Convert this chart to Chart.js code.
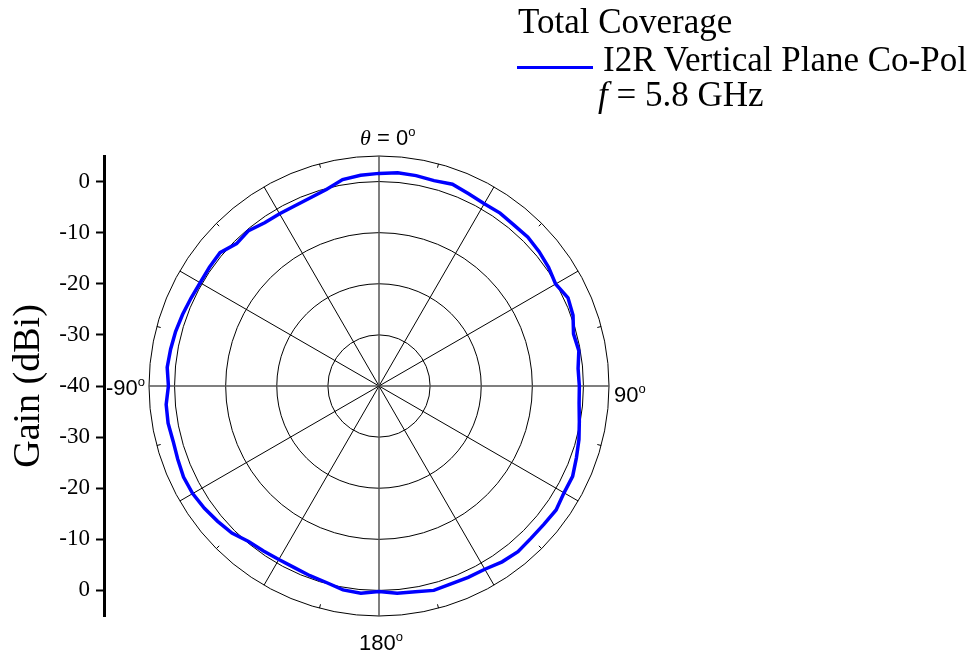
<!DOCTYPE html>
<html>
<head>
<meta charset="utf-8">
<script src="https://cdn.jsdelivr.net/npm/chart.js@4.4.1/dist/chart.umd.min.js"></script>
<style>
  body { margin: 0; background: #fff; }
  #wrap { position: relative; width: 976px; height: 656px; overflow: hidden; }
  canvas { position: absolute; left: 0; top: 0; }
  .serif { position: absolute; font-family: "Liberation Serif", "Times New Roman", serif; font-size: 35px; line-height: 35px; color: #000; white-space: nowrap; }
  .ang { position: absolute; font-family: "Liberation Sans", Arial, sans-serif; font-size: 22px; line-height: 22px; color: #000; white-space: nowrap; }
  .ang sup { font-size: 13px; vertical-align: 9px; line-height: 0; }
  .ang i { font-family: "Liberation Serif", serif; }
  #legLine { position: absolute; left: 517px; top: 66px; width: 76px; height: 3px; background: #0000ff; }
</style>
</head>
<body>
<div id="wrap">
  <canvas id="gainAxis" width="976" height="656"></canvas>
  <canvas id="polar" width="976" height="656"></canvas>

  <div class="serif" style="left:518px; top:4px;">Total Coverage</div>
  <div id="legLine"></div>
  <div class="serif" style="left:603px; top:42px;">I2R Vertical Plane Co-Pol</div>
  <div class="serif" style="left:598px; top:77px;"><i>f</i> = 5.8 GHz</div>

  <div class="ang" style="left:360px; top:127px;"><i>θ</i> = 0<sup>o</sup></div>
  <div class="ang" style="left:614px; top:384px;">90<sup>o</sup></div>
  <div class="ang" style="left:106px; top:377px;">-90<sup>o</sup></div>
  <div class="ang" style="left:359px; top:632px;">180<sup>o</sup></div>
</div>
<script>
// angle (deg, clockwise from top) every 5 degrees
const angles = [0, 5, 10, 15, 20, 25, 30, 35, 40, 45, 50, 55,
  60, 65, 70, 75, 80, 85, 90, 95, 100, 105, 110, 115,
  120, 125, 130, 135, 140, 145, 150, 155, 160, 165, 170, 175,
  180, 185, 190, 195, 200, 205, 210, 215, 220, 225, 230, 235,
  240, 245, 250, 255, 260, 265, 270, 275, 280, 285, 290, 295,
  300, 305, 310, 315, 320, 325, 330, 335, 340, 345, 350, 355];

// co-pol gain in dBi
const coPolGain = [1.6, 1.9, 1.8, 1.6, 2.0, 1.5, 1.2, 1.3, 1.1, 1.2, 0.9, 0.5,
  -0.1, 0.8, 0.4, -0.6, -0.3, -0.9, -0.8, -0.7, -0.2, 0.5, 1.1, 1.8,
  1.8, 2.3, 2.1, 2.1, 2.3, 2.0, 1.4, 1.3, 1.2, 1.4, 0.9, 0.7,
  0.2, 0.7, 0.5, -0.2, -0.5, -0.8, -0.8, -0.6, -0.3, 0.7, 1.2, 1.7,
  2.1, 2.2, 1.9, 1.7, 1.9, 1.8, 1.2, 1.6, 1.4, 1.2, 0.9, 0.6,
  0.4, 0.5, 0.6, -0.6, -0.3, -1.0, -1.1, -1.1, -0.8, -0.2, 1.0, 1.4];

// polar rings (dB), last one is the outer frame
const ringValues = [-40, -30, -20, -10, 0, 5];

// left gain axis: mirrored around the centre (-40)
const axisTicks = [40, 30, 20, 10, 0, -10, -20, -30, -40];
const gainLabels = ['0', '-10', '-20', '-30', '-40', '-30', '-20', '-10', '0'];

// small ticks on the outer frame every 15 deg
const outerTicks = {
  id: 'outerTicks',
  beforeDatasetsDraw(chart) {
    const r = chart.scales.r;
    const ctx = chart.ctx;
    const outer = r.getDistanceFromCenterForValue(r.max);
    ctx.save();
    ctx.strokeStyle = '#000';
    ctx.lineWidth = 1;
    angles.forEach((a, i) => {
      if (a % 15 !== 0 || a % 30 === 0) return;
      const p1 = r.getPointPosition(i, outer);
      const p2 = r.getPointPosition(i, outer - 4);
      ctx.beginPath();
      ctx.moveTo(p1.x, p1.y);
      ctx.lineTo(p2.x, p2.y);
      ctx.stroke();
    });
    ctx.restore();
  }
};

new Chart(document.getElementById('polar'), {
  type: 'radar',
  data: {
    labels: angles,
    datasets: [{
      label: 'I2R Vertical Plane Co-Pol',
      data: coPolGain,
      borderColor: '#0000ff',
      borderWidth: 3.5,
      pointRadius: 0,
      fill: false,
      tension: 0
    }]
  },
  options: {
    responsive: false,
    animation: false,
    layout: { padding: { left: 149, top: 156, right: 367, bottom: 40 } },
    plugins: { legend: { display: false }, tooltip: { enabled: false } },
    scales: {
      r: {
        min: -40,
        max: 5,
        afterBuildTicks: (s) => { s.ticks = ringValues.map(v => ({ value: v })); },
        ticks: { display: false },
        grid: { circular: true, color: '#000', lineWidth: 1 },
        angleLines: {
          color: (ctx) => (angles[ctx.index] % 90 === 0 ? '#555' : '#000'),
          lineWidth: (ctx) => (angles[ctx.index] % 90 === 0 ? 1.5 : (angles[ctx.index] % 30 === 0 ? 1 : 0))
        },
        pointLabels: { display: false }
      }
    }
  },
  plugins: [outerTicks]
});

new Chart(document.getElementById('gainAxis'), {
  type: 'line',
  data: { labels: [], datasets: [] },
  options: {
    responsive: false,
    animation: false,
    layout: { padding: { left: 0, top: 156, right: 700, bottom: 40 } },
    plugins: { legend: { display: false }, tooltip: { enabled: false } },
    scales: {
      x: { display: false },
      y: {
        min: -45,
        max: 45,
        afterBuildTicks: (s) => { s.ticks = axisTicks.map(v => ({ value: v })); },
        afterFit: (s) => { s.width = 104; },
        ticks: {
          autoSkip: false,
          padding: 6,
          color: '#000',
          font: { family: 'Liberation Serif', size: 23 },
          callback: (v, i) => gainLabels[i]
        },
        grid: { drawOnChartArea: false, drawTicks: true, tickLength: 8, tickWidth: 2, tickColor: '#000' },
        border: { display: true, width: 3, color: '#000' },
        title: {
          display: true,
          text: 'Gain (dBi)',
          color: '#000',
          padding: { top: 6, bottom: 0 },
          font: { family: 'Liberation Serif', size: 38, weight: 'normal' }
        }
      }
    }
  }
});
</script>
</body>
</html>
